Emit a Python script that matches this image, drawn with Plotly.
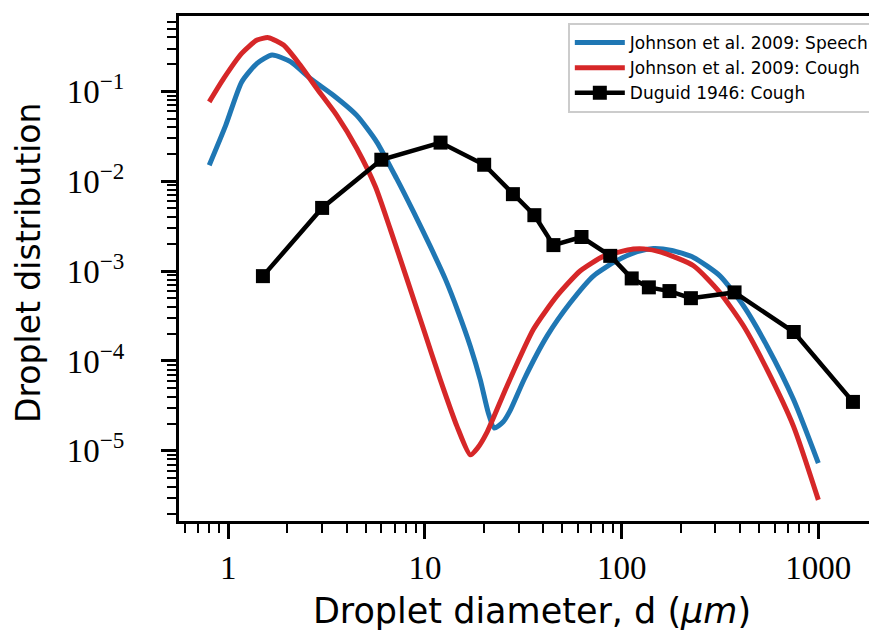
import plotly.graph_objects as go

# Johnson et al. 2009: Speech
speech_d = [0.8, 0.97, 1.17, 1.4, 1.67, 2.07, 2.61, 3.42, 4.5, 5.69, 7.18, 8.76, 10.6,
            12.7, 14.8, 17.0, 19.1, 21.0, 22.5, 25.0, 27.1, 32.0, 41.8, 54.9, 72.0, 94.0,
            120.0, 145.0, 180.0, 232.0, 316.0, 417.0, 549.0, 748.0, 1000.0]
speech_v = [0.0151, 0.042, 0.128, 0.206, 0.255, 0.215, 0.140, 0.091, 0.0543, 0.0274,
            0.0107, 0.00453, 0.00192, 8.15e-4, 3.46e-4, 1.46e-4, 6.2e-5, 2.64e-5, 1.79e-5,
            2.1e-5, 2.8e-5, 6.3e-5, 1.9e-4, 4.47e-4, 8.87e-4, 1.30e-3, 1.65e-3, 1.79e-3,
            1.70e-3, 1.42e-3, 8.87e-4, 4.09e-4, 1.46e-4, 3.72e-5, 7.3e-6]

# Johnson et al. 2009: Cough
cough_d = [0.8, 0.95, 1.17, 1.4, 1.6, 1.91, 2.32, 2.82, 3.56, 4.51, 5.6, 6.66, 8.1, 9.84,
           11.96, 14.55, 17.0, 18.5, 20.6, 26.1, 35.6, 46.9, 61.7, 80.8, 114.6, 130.0,
           157.0, 232.0, 316.0, 417.0, 549.0, 748.0, 1000.0]
cough_v = [0.0767, 0.141, 0.266, 0.374, 0.398, 0.329, 0.197, 0.108, 0.0543, 0.0231,
           0.0087, 0.00294, 8.15e-4, 2.25e-4, 6.2e-5, 1.87e-5, 9.0e-6, 1.07e-5, 1.58e-5,
           5.24e-5, 2.25e-4, 5.3e-4, 1.01e-3, 1.46e-3, 1.76e-3, 1.77e-3, 1.64e-3, 1.15e-3,
           5.78e-4, 2.45e-4, 8.0e-5, 1.87e-5, 2.84e-6]

# Duguid 1946: Cough
duguid_d = [1.5, 3, 6, 12, 20, 28, 36, 45, 62.5, 87.5, 112.5, 137.5, 175, 225, 375, 750, 1500]
duguid_v = [8.8e-4, 5.06e-3, 0.0174, 0.027, 0.0153, 0.0072, 0.0042, 0.00195, 0.0024,
            0.00148, 8.3e-4, 6.6e-4, 6.0e-4, 5.0e-4, 5.8e-4, 2.1e-4, 3.5e-5]

x_tickvals = [1, 10, 100, 1000]
x_ticktext = ["1", "10", "100", "1000"]
y_tickvals = [1e-1, 1e-2, 1e-3, 1e-4, 1e-5]
y_ticktext = ["10<sup>\u22121</sup>", "10<sup>\u22122</sup>", "10<sup>\u22123</sup>",
              "10<sup>\u22124</sup>", "10<sup>\u22125</sup>"]

fig = go.Figure()
fig.add_trace(go.Scatter(x=speech_d, y=speech_v, mode="lines", name="Johnson et al. 2009: Speech",
                         line=dict(color="#1f77b4", width=5, shape="spline", smoothing=0.6)))
fig.add_trace(go.Scatter(x=cough_d, y=cough_v, mode="lines", name="Johnson et al. 2009: Cough",
                         line=dict(color="#d62728", width=5, shape="spline", smoothing=0.6)))
fig.add_trace(go.Scatter(x=duguid_d, y=duguid_v, mode="lines+markers", name="Duguid 1946: Cough",
                         line=dict(color="black", width=4.5),
                         marker=dict(symbol="square", size=14, color="black")))

serif = "Liberation Serif, DejaVu Serif, serif"
sans = "DejaVu Sans, Lato, sans-serif"

fig.update_layout(
    width=877, height=637,
    margin=dict(l=171, r=0, t=8, b=124),
    paper_bgcolor="white", plot_bgcolor="white",
    showlegend=True,
    legend=dict(x=0.987, xanchor="right", y=0.986, yanchor="top",
                font=dict(family=sans, size=17, color="black"),
                bgcolor="white", bordercolor="#cccccc", borderwidth=2,
                itemwidth=50, tracegroupgap=0),
    xaxis=dict(type="log", range=[-0.2506, 3.339], automargin=False,
               tickvals=x_tickvals, ticktext=x_ticktext,
               ticks="outside", ticklen=15, tickwidth=3, tickcolor="black",
               ticklabelstandoff=0,
               tickfont=dict(family=serif, size=33, color="black"),
               showline=True, linewidth=3, linecolor="black", mirror=True,
               showgrid=False, zeroline=False,
               minor=dict(ticks="outside", ticklen=9, tickwidth=2, tickcolor="black",
                          dtick="D1", showgrid=False),
               title=dict(text="Droplet diameter, d (<i>\u03bcm</i>)",
                          font=dict(family=sans, size=35, color="black"), standoff=14)),
    yaxis=dict(type="log", range=[-5.782, -0.159], automargin=False,
               tickvals=y_tickvals, ticktext=y_ticktext,
               ticks="outside", ticklen=15, tickwidth=3, tickcolor="black",
               ticklabelstandoff=30,
               tickfont=dict(family=serif, size=33, color="black"),
               showline=True, linewidth=3, linecolor="black", mirror=False,
               showgrid=False, zeroline=False,
               minor=dict(ticks="outside", ticklen=9, tickwidth=2, tickcolor="black",
                          dtick="D1", showgrid=False)),
    annotations=[dict(text="Droplet distribution", xref="paper", yref="paper",
                      x=-0.2125, y=0.511, xanchor="center", yanchor="middle",
                      textangle=-90, showarrow=False,
                      font=dict(family=sans, size=33, color="black"))],
)

fig.write_html("out.html")
